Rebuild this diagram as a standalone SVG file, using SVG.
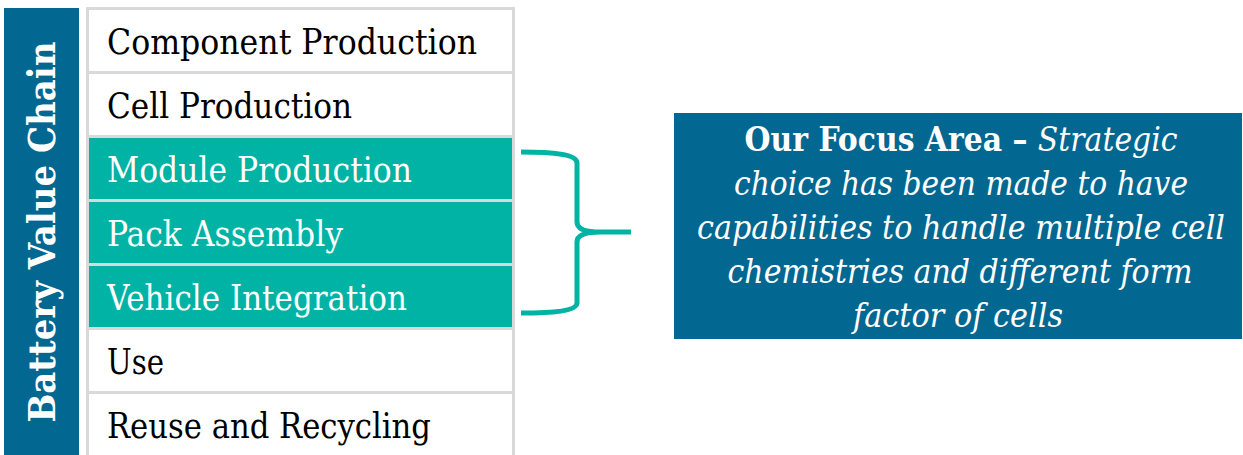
<svg xmlns="http://www.w3.org/2000/svg" width="1243" height="455" viewBox="0 0 1243 455">
  <style>
    .cell { stroke: #d9d9d9; stroke-width: 3; }
    .white { fill: #ffffff; }
    .teal { fill: #00b3a4; }
    .lbl { font-family: "DejaVu Serif", "Liberation Serif", serif; font-stretch: condensed; font-size: 36px; }
    .dark { fill: #000000; }
    .light { fill: #ffffff; }
    .focus { font-family: "DejaVu Serif", "Liberation Serif", serif; font-stretch: condensed; font-size: 33px; fill: #ffffff; font-style: italic; }
  </style>
  <rect width="1243" height="455" fill="#ffffff"/>
  <g id="side-title">
    <rect x="4" y="8" width="75" height="447" fill="#026791"/>
    <text transform="translate(55,232) rotate(-90)" text-anchor="middle" textLength="381" lengthAdjust="spacingAndGlyphs" font-family="DejaVu Serif, Liberation Serif, serif" font-stretch="condensed" font-weight="bold" font-size="38" fill="#ffffff">Battery Value Chain</text>
  </g>
  <g id="row-component">
    <rect class="cell white" x="87.5" y="8.5" width="426" height="64"/>
    <text class="lbl dark" x="107" y="54" textLength="370" lengthAdjust="spacingAndGlyphs">Component Production</text>
  </g>
  <g id="row-cell">
    <rect class="cell white" x="87.5" y="72.5" width="426" height="64"/>
    <text class="lbl dark" x="107" y="118" textLength="245" lengthAdjust="spacingAndGlyphs">Cell Production</text>
  </g>
  <g id="row-module">
    <rect class="cell teal" x="87.5" y="136.5" width="426" height="64"/>
    <text class="lbl light" x="107" y="182" textLength="305" lengthAdjust="spacingAndGlyphs">Module Production</text>
  </g>
  <g id="row-pack">
    <rect class="cell teal" x="87.5" y="200.5" width="426" height="64"/>
    <text class="lbl light" x="107" y="246" textLength="236" lengthAdjust="spacingAndGlyphs">Pack Assembly</text>
  </g>
  <g id="row-vehicle">
    <rect class="cell teal" x="87.5" y="264.5" width="426" height="64"/>
    <text class="lbl light" x="107" y="310" textLength="300" lengthAdjust="spacingAndGlyphs">Vehicle Integration</text>
  </g>
  <g id="row-use">
    <rect class="cell white" x="87.5" y="328.5" width="426" height="64"/>
    <text class="lbl dark" x="107" y="374" textLength="57" lengthAdjust="spacingAndGlyphs">Use</text>
  </g>
  <g id="row-reuse">
    <rect class="cell white" x="87.5" y="392.5" width="426" height="64"/>
    <text class="lbl dark" x="107" y="438" textLength="324" lengthAdjust="spacingAndGlyphs">Reuse and Recycling</text>
  </g>
  <g id="connectors">
    <path d="M521,152 C552,152 577,154 577,163 V222 C577,229 586,232 600,232 H631 M600,232 C586,232 577,235 577,242 V303 C577,311 552,313 521,313" fill="none" stroke="#00b3a4" stroke-width="5"/>
  </g>
  <g id="focus-area">
    <rect x="674" y="113" width="568" height="226" fill="#026791"/>
    <text class="focus" x="961" y="151" text-anchor="middle" textLength="433" lengthAdjust="spacingAndGlyphs"><tspan font-weight="bold" font-style="normal">Our Focus Area – </tspan><tspan>Strategic</tspan></text>
    <text class="focus" x="961" y="195" text-anchor="middle" textLength="454" lengthAdjust="spacingAndGlyphs">choice has been made to have</text>
    <text class="focus" x="961" y="239" text-anchor="middle" textLength="528" lengthAdjust="spacingAndGlyphs">capabilities to handle multiple cell</text>
    <text class="focus" x="960" y="283" text-anchor="middle" textLength="465" lengthAdjust="spacingAndGlyphs">chemistries and different form</text>
    <text class="focus" x="958" y="327" text-anchor="middle" textLength="210" lengthAdjust="spacingAndGlyphs">factor of cells</text>
  </g>
</svg>
